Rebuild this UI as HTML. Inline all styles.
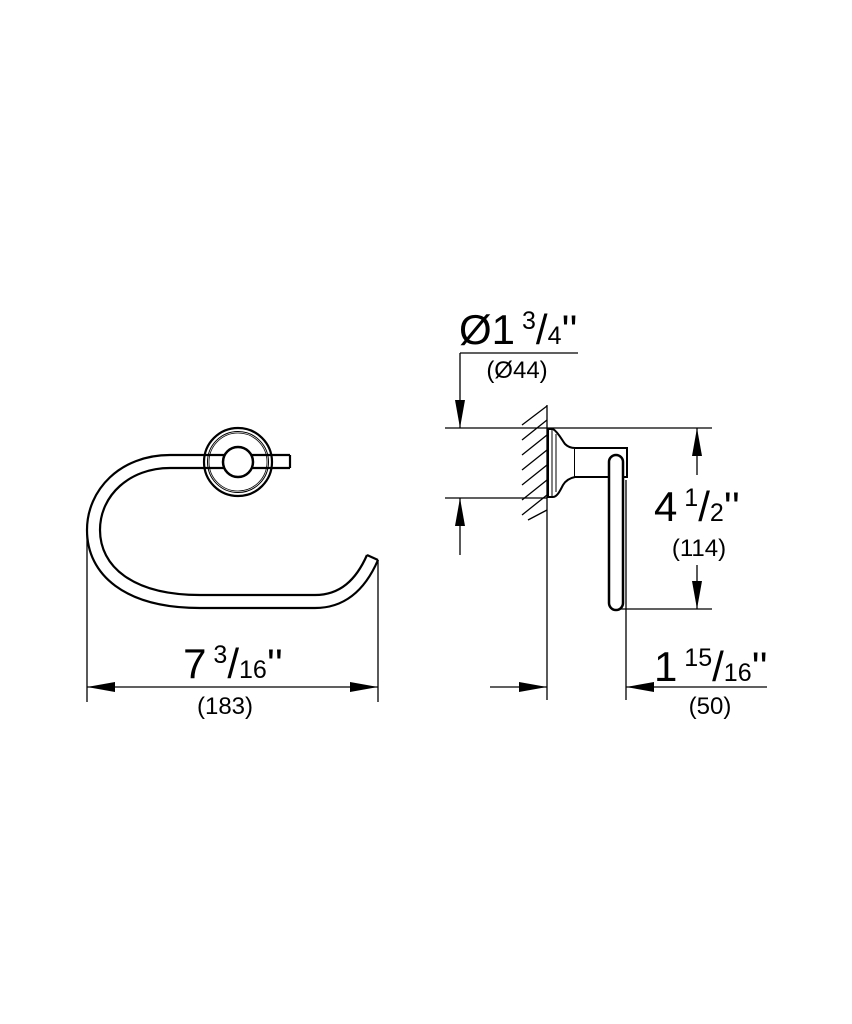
<!DOCTYPE html>
<html><head><style>
html,body{margin:0;padding:0;background:#fff;}
svg{display:block;}
text{font-family:"Liberation Sans",sans-serif;fill:#000;}
</style></head><body>
<svg width="852" height="1024" viewBox="0 0 852 1024" xmlns="http://www.w3.org/2000/svg">
<g fill="none" stroke="#000" stroke-width="2.2">
  <path d="M290,455 L170,455 C120,455 87,490 87,530 C87,575 125,608 200,608 L315,608 C345,608 365,590 378,560"/>
  <path d="M290,468 L170,468 C130,468 100,495 100,530 C100,566 132,595 200,595 L315,595 C340,595 356,580 367,555"/>
  <line x1="367" y1="555" x2="378" y2="560"/>
  <line x1="290" y1="455" x2="290" y2="468"/>
  <circle cx="238" cy="462" r="34"/>
  <circle cx="238" cy="462" r="30.5" stroke-width="1"/>
  <circle cx="238" cy="462" r="29" stroke-width="0.8"/>
  <circle cx="238" cy="462" r="15" fill="#fff" stroke-width="2.5"/>
</g>
<g stroke="#000" stroke-width="1.3" fill="none">
  <line x1="87" y1="530" x2="87" y2="702"/>
  <line x1="378" y1="560" x2="378" y2="702"/>
  <line x1="87" y1="687" x2="378" y2="687"/>
</g>
<polygon points="87,687 115,682 115,692" fill="#000"/>
<polygon points="378,687 350,682 350,692" fill="#000"/>
<text x="233" y="678" font-size="42" text-anchor="middle">7<tspan font-size="25" dy="-15"> 3</tspan><tspan dy="15">/</tspan><tspan font-size="25">16</tspan>''</text>
<text x="225" y="714" font-size="24" text-anchor="middle">(183)</text>

<g stroke="#000" stroke-width="1.3" fill="none">
  <line x1="547" y1="405" x2="547" y2="700"/>
  <line x1="445" y1="428" x2="712" y2="428"/>
  <line x1="445" y1="498" x2="547" y2="498"/>
  <line x1="460" y1="353" x2="578" y2="353"/>
  <line x1="460" y1="353" x2="460" y2="428"/>
  <line x1="460" y1="498" x2="460" y2="555"/>
  <line x1="617" y1="609" x2="712" y2="609"/>
  <line x1="697" y1="428" x2="697" y2="475"/>
  <line x1="697" y1="565" x2="697" y2="609"/>
  <line x1="626" y1="480" x2="626" y2="700"/>
  <line x1="490" y1="687" x2="547" y2="687"/>
  <line x1="626" y1="687" x2="767" y2="687"/>
  <line x1="522" y1="425" x2="547" y2="406"/>
  <line x1="522" y1="440" x2="547" y2="420"/>
  <line x1="522" y1="455" x2="547" y2="435"/>
  <line x1="522" y1="470" x2="547" y2="450"/>
  <line x1="522" y1="485" x2="547" y2="465"/>
  <line x1="522" y1="500" x2="547" y2="480"/>
  <line x1="522" y1="515" x2="547" y2="495"/>
  <line x1="528" y1="520" x2="547" y2="510"/>
</g>
<g stroke="#000" stroke-width="2" fill="#fff">
  <path d="M548,429 L553,429 C558,432 562,440 565,444 C568,447 572,448 575,448 L575,477 C570,478 566,480 563,485 C560,491 557,497 553,497 L548,497 Z"/>
  <path d="M575,448 L627,448 L627,477 L575,477"/>
  <line x1="552" y1="430" x2="552" y2="496" stroke-width="1"/>
  <line x1="556" y1="434" x2="556" y2="492" stroke-width="1"/>
  <path d="M609,462 A7,7 0 0 1 623,462 L623,603 A7,7 0 0 1 609,603 Z" stroke-width="2.5"/>
</g>
<polygon points="460,428 455,400 465,400" fill="#000"/>
<polygon points="460,498 455,526 465,526" fill="#000"/>
<polygon points="697,428 692,456 702,456" fill="#000"/>
<polygon points="697,609 692,581 702,581" fill="#000"/>
<polygon points="547,687 519,682 519,692" fill="#000"/>
<polygon points="626,687 654,682 654,692" fill="#000"/>
<text x="459" y="344" font-size="42">Ø1<tspan font-size="25" dy="-15"> 3</tspan><tspan dy="15">/</tspan><tspan font-size="25">4</tspan>''</text>
<text x="517" y="378" font-size="24" text-anchor="middle">(Ø44)</text>
<text x="654" y="521" font-size="42">4<tspan font-size="25" dy="-15"> 1</tspan><tspan dy="15">/</tspan><tspan font-size="25">2</tspan>''</text>
<text x="699" y="556" font-size="24" text-anchor="middle">(114)</text>
<text x="654" y="681" font-size="42">1<tspan font-size="25" dy="-15"> 15</tspan><tspan dy="15">/</tspan><tspan font-size="25">16</tspan>''</text>
<text x="710" y="714" font-size="24" text-anchor="middle">(50)</text>
</svg>
</body></html>
